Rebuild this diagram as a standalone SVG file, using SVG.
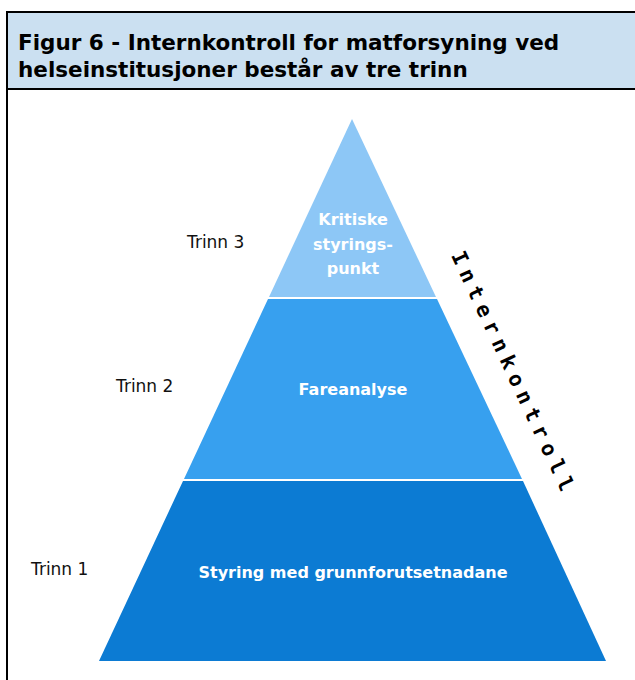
<svg xmlns="http://www.w3.org/2000/svg" width="635" height="680" viewBox="0 0 635 680">
<style>
.hdr{font-family:"DejaVu Sans",Verdana,sans-serif;font-weight:bold;font-size:21.5px;fill:#000}
.lbl{font-family:"DejaVu Sans",Verdana,sans-serif;font-size:17px;fill:#111}
.tier{font-family:"DejaVu Sans",Verdana,sans-serif;font-weight:bold;font-size:16px;fill:#fff;text-anchor:middle}
.ik{font-family:"DejaVu Sans Mono","Liberation Mono",monospace;font-weight:bold;font-size:21px;fill:#000}
</style>
<rect x="0" y="0" width="635" height="680" fill="#fff"/>
<g id="header">
<rect x="7" y="12" width="630" height="77" fill="#cbe0f1"/>
<path d="M7 680 V12 H636 M7 89 H636" fill="none" stroke="#000" stroke-width="2"/>
<text class="hdr" x="18" y="50">Figur 6 - Internkontroll for matforsyning ved</text>
<text class="hdr" x="18" y="77">helseinstitusjoner består av tre trinn</text>
</g>
<g id="tier3">
<polygon points="352,119 436,297 269,297" fill="#8dc7f6"/>
<text class="tier" x="353" y="225">Kritiske</text>
<text class="tier" x="353" y="250">styrings-</text>
<text class="tier" x="353" y="274">punkt</text>
</g>
<g id="tier2">
<polygon points="268,299 437,299 522,479 184,479" fill="#37a0ef"/>
<text class="tier" x="353" y="395">Fareanalyse</text>
</g>
<g id="tier1">
<polygon points="183,481 523,481 606,661 99,661" fill="#0c7bd3"/>
<text class="tier" x="353" y="578">Styring med grunnforutsetnadane</text>
</g>
<g id="labels">
<text class="lbl" x="187" y="248">Trinn 3</text>
<text class="lbl" x="116" y="392">Trinn 2</text>
<text class="lbl" x="31" y="575">Trinn 1</text>
</g>
<g id="internkontroll">
<text class="ik" x="506" y="374" text-anchor="middle" textLength="262" lengthAdjust="spacing" transform="rotate(65 506 374)">Internkontroll</text>
</g>
</svg>
